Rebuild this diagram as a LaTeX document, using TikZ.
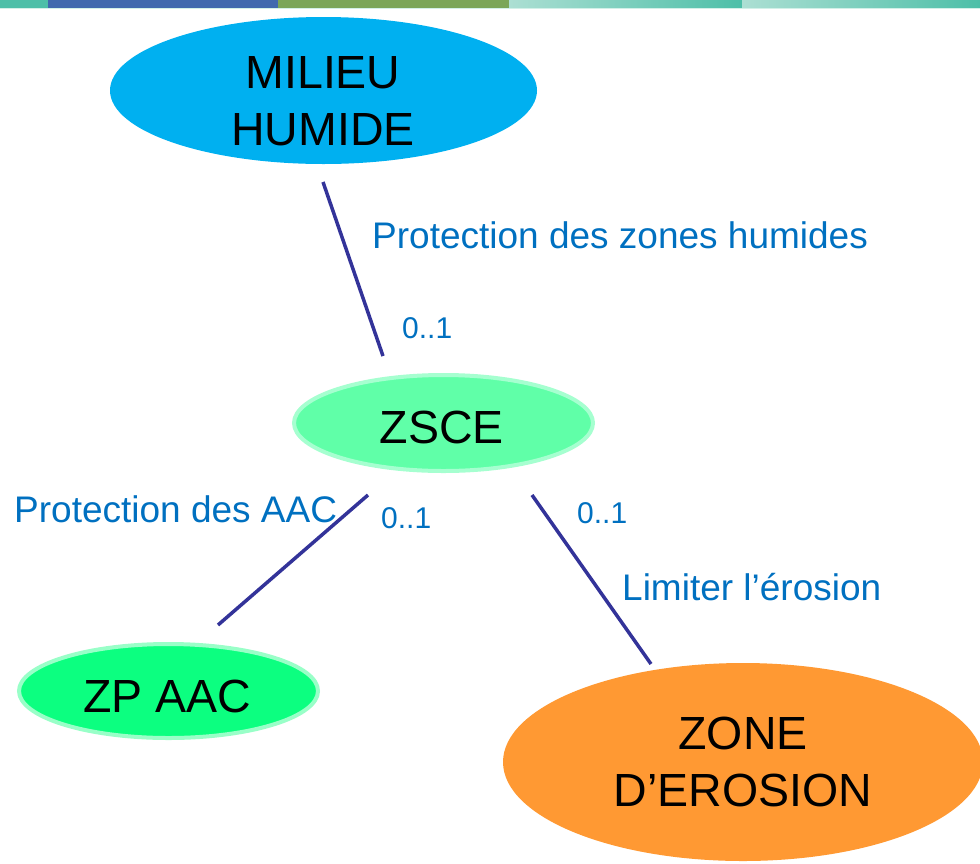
\documentclass[tikz,border=0pt]{standalone}
\usepackage{fontspec}
\setmainfont{Liberation Sans}
\usetikzlibrary{shapes.geometric}
\definecolor{milieufill}{HTML}{00B0F0}
\definecolor{zscefill}{HTML}{60FFA8}
\definecolor{zsceborder}{HTML}{A6FFD0}
\definecolor{zpfill}{HTML}{0CFF80}
\definecolor{zpborder}{HTML}{99FFC8}
\definecolor{zonefill}{HTML}{FF9933}
\definecolor{linkblue}{HTML}{333399}
\definecolor{labelblue}{HTML}{0070C0}
\definecolor{barteal}{HTML}{4DBFA8}
\definecolor{barblue}{HTML}{4169AE}
\definecolor{bargreen}{HTML}{7BA659}
\definecolor{barlight}{HTML}{ACDFD3}
\definecolor{barline}{HTML}{D2F0E8}
\begin{document}
\begin{tikzpicture}[x=1pt,y=-1pt,
  entity/.style={ellipse,inner sep=0pt},
  entitytext/.style={inner sep=0pt,align=center,text=black,font=\fontsize{46.5}{57}\selectfont},
  lbl/.style={anchor=base west,inner sep=0pt,text=labelblue,font=\fontsize{37}{44}\selectfont},
  mult/.style={anchor=base west,inner sep=0pt,text=labelblue,font=\fontsize{30}{36}\selectfont},
  link/.style={draw=linkblue,line width=3.5pt}]
\useasboundingbox (0,0) rectangle (980,863);
% top bar
\fill[barteal] (0,0) rectangle (48,7.5);
\fill[barblue] (48,0) rectangle (278,7.5);
\fill[bargreen] (278,0) rectangle (509,7.5);
\shade[left color=barlight,right color=barteal] (509,0) rectangle (742,7.5);
\shade[left color=barlight,right color=barteal] (742,0) rectangle (980,7.5);
\fill[barline] (0,7.5) rectangle (980,9);
% entities
\node[entity,fill=milieufill,minimum width=427pt,minimum height=147pt] (milieu) at (323.5,90.5) {};
\node[entitytext,anchor=center] (milieutxt) at (323,101.5) {MILIEU\\HUMIDE};
\node[entity,fill=zscefill,draw=zsceborder,line width=4pt,minimum width=299pt,minimum height=96pt] (zsce) at (443.5,423) {};
\node[entitytext,anchor=base] (zscetxt) at (442,443) {ZSCE};
\node[entity,fill=zpfill,draw=zpborder,line width=4pt,minimum width=299pt,minimum height=94pt] (zpaac) at (168.5,691) {};
\node[entitytext,anchor=base] (zpaactxt) at (167,712) {ZP AAC};
\node[entity,fill=zonefill,minimum width=480pt,minimum height=198pt] (zone) at (743,762) {};
\node[entitytext,anchor=center] (zonetxt) at (743,762) {ZONE\\D’EROSION};
% connector ends
\coordinate (m1) at (323,182);
\coordinate (m2) at (383,356);
\coordinate (a1) at (368,495);
\coordinate (a2) at (218,625);
\coordinate (e1) at (532,495);
\coordinate (e2) at (651,664);
\draw[link] (m1) -- (m2);
\draw[link] (a1) -- (a2);
\draw[link] (e1) -- (e2);
% labels
\node[lbl] (l1) at (372,248) {Protection des zones humides};
\node[mult] (n1) at (402,338) {0..1};
\node[lbl] (l2) at (14,522) {Protection des AAC};
\node[mult] (n2) at (381,528) {0..1};
\node[mult] (n3) at (577,523) {0..1};
\node[lbl] (l3) at (622,600) {Limiter l’érosion};
\end{tikzpicture}
\end{document}
